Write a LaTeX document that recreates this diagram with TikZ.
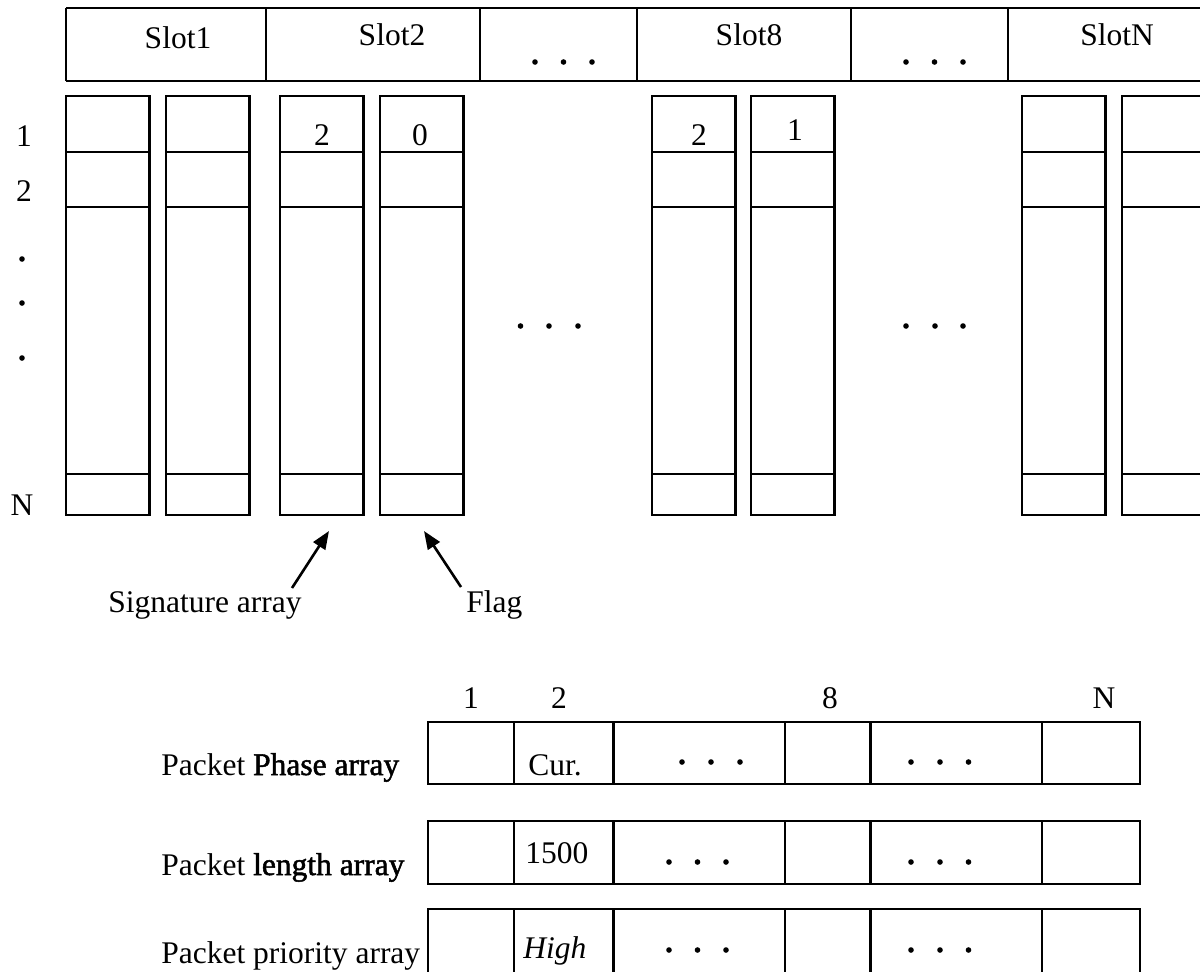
\documentclass[tikz,border=0pt]{standalone}
\usepackage{fontspec}
\setmainfont{Liberation Serif}
\newfontfamily\fbold[FakeBold=1.6]{Liberation Serif}
\usetikzlibrary{arrows.meta}
\begin{document}
\begin{tikzpicture}[x=0.5pt,y=-0.5pt,line width=1.3pt,
  lbl/.style={inner sep=0pt,anchor=base,font=\fontsize{15.75}{18}\selectfont},
  lblw/.style={lbl,anchor=base west},
  pointer/.style={-{Triangle[length=9pt,width=7pt]},line width=1.3pt},
  dotmark/.style={fill=black}]
\useasboundingbox (0,0) rectangle (1200,971);
\clip (0,0) rectangle (1200,971);
% ---------- header row ----------
\draw (66,8) -- (1215,8);
\draw (66,81) -- (1215,81);
\foreach \x in {66,266,480,637,851,1008} \draw (\x,8) -- (\x,81);
\node[lbl] (s1) at (178,48) {Slot1};
\node[lbl] (s2) at (392,45) {Slot2};
\node[lbl] (s8) at (749,45) {Slot8};
\node[lbl] (sN) at (1117,45) {SlotN};
\foreach \x in {535,563.5,592,906,934.5,963} \fill[dotmark] (\x,62) circle (2.8);
% ---------- columns ----------
\foreach \l in {66,166,280,380,652,751,1022,1122}{
  \draw (\l,96) rectangle ++(83.5,419);
  \draw (\l,152) -- ++(83.5,0);
  \draw (\l,207) -- ++(83.5,0);
  \draw (\l,474) -- ++(83.5,0);
}
\node[lbl] (c3) at (322,145) {2};
\node[lbl] (c4) at (420,145) {0};
\node[lbl] (c5) at (699,145) {2};
\node[lbl] (c6) at (795,140) {1};
% row labels
\node[lbl] (r1) at (24,146) {1};
\node[lbl] (r2) at (24,201) {2};
\node[lbl] (rN) at (22,515) {N};
\foreach \y in {259,303,358} \fill[dotmark] (22,\y) circle (2.8);
\foreach \x in {520.5,549,578,906,935,963} \fill[dotmark] (\x,326) circle (2.8);
% ---------- pointers ----------
\node[lblw] (sig) at (107,612) {Signature array};
\node[lblw] (flag) at (465,612) {Flag};
\coordinate (sigtip) at (329,531);
\coordinate (sigtail) at (292,588);
\coordinate (flagtip) at (424,531);
\coordinate (flagtail) at (461,587);
\draw[pointer] (sigtail) -- (sigtip);
\draw[pointer] (flagtail) -- (flagtip);
% ---------- bottom arrays ----------
\node[lbl] (i1) at (471,708) {1};
\node[lbl] (i2) at (559,708) {2};
\node[lbl] (i8) at (830,708) {8};
\node[lbl] (iN) at (1104,708) {N};
\foreach \t/\b in {722/784,821/884,909/1010}{
  \draw (428,\t) rectangle (1140,\b);
  \foreach \x in {514,613.6,785,870.6,1042} \draw (\x,\t) -- (\x,\b);
}
\node[lblw] (pa) at (160,775) {Packet {\fbold Phase array}};
\node[lblw] (la) at (160,875) {Packet {\fbold length array}};
\node[lblw] (pr) at (160,963) {Packet priority array};
\node[lblw] (cur) at (527,775) {Cur.};
\node[lblw] (len) at (524,863) {1500};
\node[lblw] (hi) at (522,958) {\itshape High};
\foreach \x in {682,711,740,911,940,968.5} \fill[dotmark] (\x,762) circle (2.8);
\foreach \x in {669,697.5,726,911,940,968.5} \fill[dotmark] (\x,862) circle (2.8);
\foreach \x in {669,697.5,726,911,940,968.5} \fill[dotmark] (\x,950) circle (2.8);
\end{tikzpicture}
\end{document}
